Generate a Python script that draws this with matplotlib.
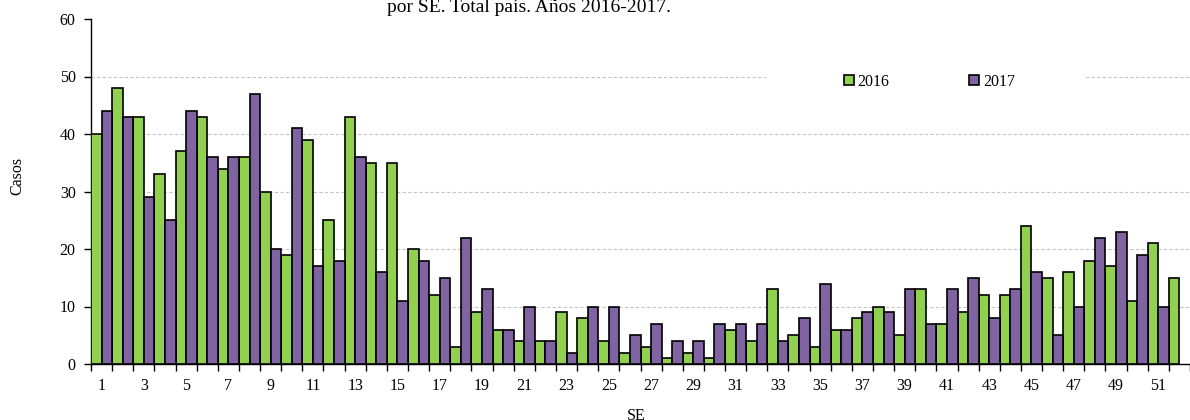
import matplotlib
matplotlib.use("Agg")
import matplotlib.pyplot as plt
from matplotlib.patches import Patch, Rectangle
import numpy as np

plt.rcParams['font.family'] = ['Liberation Serif', 'DejaVu Serif']

# casos por semana epidemiologica (SE)
semanas = list(range(1, 53))
casos_2016 = [40, 48, 43, 33, 37, 43, 34, 36, 30, 19, 39, 25, 43, 35, 35, 20,
              12, 3, 9, 6, 4, 4, 9, 8, 4, 2, 3, 1, 2, 1, 6, 4, 13, 5, 3, 6,
              8, 10, 5, 13, 7, 9, 12, 12, 24, 15, 16, 18, 17, 11, 21, 15]
casos_2017 = [44, 43, 29, 25, 44, 36, 36, 47, 20, 41, 17, 18, 36, 16, 11, 18,
              15, 22, 13, 6, 10, 4, 2, 10, 10, 5, 7, 4, 4, 7, 7, 7, 4, 8, 14,
              6, 9, 9, 13, 7, 13, 15, 8, 13, 16, 5, 10, 22, 23, 19, 10]
etiquetas_x = list(range(1, 53, 2))

verde = '#92D050'
violeta = '#8064A2'

W, H = 1190, 420
fig = plt.figure(figsize=(W / 100, H / 100), dpi=100)
# el area de grafico sigue mas alla del borde derecho
ax = fig.add_axes([91 / W, 1 - 364 / H, 1099 / W, 345 / H])

x16 = np.array(semanas[:len(casos_2016)])
x17 = np.array(semanas[:len(casos_2017)])
ax.bar(x16 - 0.25, casos_2016, width=0.5, color=verde, edgecolor='black',
       linewidth=1.2, label='2016', zorder=3)
ax.bar(x17 + 0.25, casos_2017, width=0.5, color=violeta, edgecolor='black',
       linewidth=1.2, label='2017', zorder=3)

ax.set_xlim(0.5, 0.5 + 1099 / 21.42)
ax.set_ylim(0, 60)
ax.set_yticks(range(0, 61, 10))
for v in range(10, 60, 10):
    ax.axhline(v, color='#c4c4c4', linewidth=0.8, linestyle=(0, (3, 2)), zorder=1)

ax.set_xticks(etiquetas_x)
ax.set_xticklabels([str(s) for s in etiquetas_x])
ax.set_xticks(np.arange(0.5, 53, 1), minor=True)
ax.tick_params(axis='x', which='major', length=0, pad=10, labelsize=11.5)
ax.tick_params(axis='x', which='minor', length=5, width=1, direction='out')
ax.tick_params(axis='y', length=5, width=1, pad=6, labelsize=11.5)

for s in ['top', 'right']:
    ax.spines[s].set_visible(False)
for s in ['left', 'bottom']:
    ax.spines[s].set_linewidth(1.0)

ax.set_ylabel('Casos', fontsize=11.5)
ax.yaxis.set_label_coords(-0.060, 0.545)
ax.set_xlabel('SE', fontsize=11.5)
ax.xaxis.set_label_coords(0.496, -0.128)

# fondo blanco de la leyenda
ax.add_patch(Rectangle((766 / W, 1 - 104 / H), 320 / W, 40 / H,
                       transform=fig.transFigure, facecolor='white',
                       edgecolor='none', zorder=2))
handles = [Patch(facecolor=verde, edgecolor='black', linewidth=1.2),
           Patch(facecolor=violeta, edgecolor='black', linewidth=1.2)]
fig.legend(handles, ['2016', '2017'], loc='center left',
           bbox_to_anchor=(844 / W, 1 - 82 / H), ncol=2, frameon=False,
           fontsize=11.5, handlelength=0.6, handleheight=0.6,
           handletextpad=0.25, columnspacing=5.0, borderpad=0,
           borderaxespad=0)

fig.text(529 / W, 1 - 12 / H, 'por SE. Total país. Años 2016-2017.',
         ha='center', va='baseline', fontsize=14)

fig.savefig('out.png', dpi=100)
